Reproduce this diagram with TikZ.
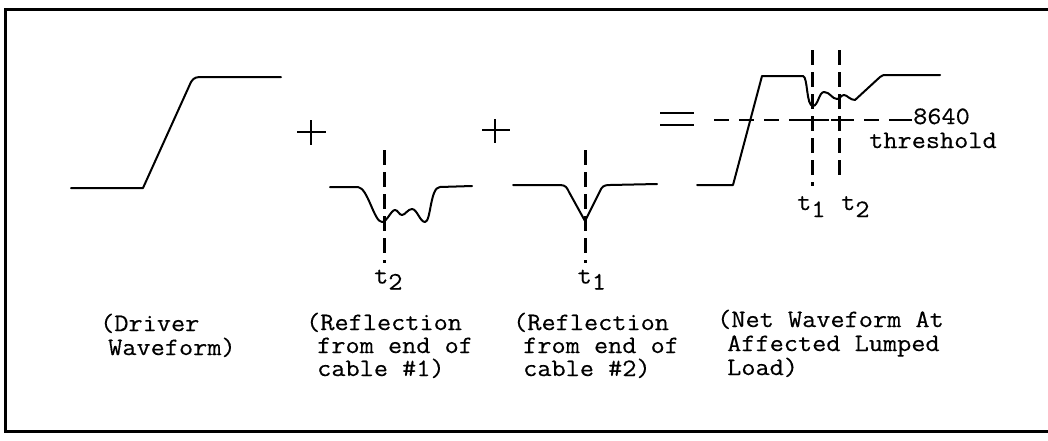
\documentclass[tikz,border=0pt]{standalone}
\usepackage{fontspec}
\newfontfamily\tw[FakeStretch=1.1,FakeBold=0.4]{Latin Modern Mono}
\begin{document}
\begin{tikzpicture}[x=1pt,y=-1pt,
  wave/.style={line width=2pt, line join=round, line cap=round},
  sign/.style={line width=2pt},
  vdash/.style={line width=3pt, dash pattern=on 15pt off 7pt},
  thr/.style={line width=1.6pt, dash pattern=on 15pt off 10pt},
  lbl/.style={anchor=base west, inner sep=0pt, font=\tw\fontsize{25}{23}\selectfont}]
\useasboundingbox (0,0) rectangle (1048,440);
% frame
\draw[line width=3pt] (1048,9) -- (5,9) -- (5,431) -- (1048,431);

% driver waveform
\draw[wave] (71,188) -- (143,188) -- (191,82) .. controls (194,77) and (197,77) .. (203,77) -- (281,77);

% plus signs and equals
\draw[sign] (297,132) -- (326,132) (311,120) -- (311,145);
\draw[sign] (482,130) -- (510,130) (495,119) -- (495,143);
\draw[sign] (660,113) -- (694,113) (660,125) -- (694,125);

% reflection 1
\draw[wave] (330,187) -- (358,187) .. controls (368,188) and (374,222) .. (382,222)
  .. controls (387,222) and (391,210) .. (395,210)
  .. controls (398,210) and (399,215) .. (402,215)
  .. controls (405,215) and (408,209) .. (412,209)
  .. controls (417,209) and (420,222) .. (425,222)
  .. controls (431,222) and (430,187) .. (440,187) -- (472,186);
\coordinate (r1top) at (384.5,150);
\coordinate (r1bot) at (384.5,263);
\draw[vdash] (r1top) -- (r1bot);
\node[lbl] (t2a) at (374,283.5) {t\raisebox{-6pt}{2}};

% reflection 2
\draw[wave] (513,185) -- (560,185) .. controls (566,185) and (567,188) .. (569,192)
  -- (585,221) -- (600,191) .. controls (602,187) and (603,185) .. (610,185) -- (657,184);
\coordinate (r2top) at (585,150);
\coordinate (r2bot) at (585,263);
\draw[vdash] (r2top) -- (r2bot);
\node[lbl] (t1a) at (577.5,283.5) {t\raisebox{-6pt}{1}};

% net waveform
\draw[wave] (697,185) -- (733,185) -- (762,76) -- (803,76)
  .. controls (808,77) and (806,106) .. (813,106)
  .. controls (818,106) and (819,92) .. (824,92)
  .. controls (830,92) and (832,99) .. (837,99)
  .. controls (840,99) and (841,95) .. (844,95)
  .. controls (847,95) and (850,100) .. (855,100)
  -- (880,77) .. controls (882,75) and (884,75) .. (886,75) -- (940,75);
\coordinate (n1top) at (812,50);
\coordinate (n1bot) at (812,186);
\coordinate (n2top) at (839,50);
\coordinate (n2bot) at (839,181);
\draw[vdash] (n1top) -- (n1bot);
\draw[vdash] (n2top) -- (n2bot);
\coordinate (thl) at (714,120);
\coordinate (thr) at (912,120);
\draw[thr] (thl) -- (thr);
\draw[line width=1.6pt] (804,120) -- (820,120) (831,120) -- (847,120) (896,120) -- (thr);
\node[lbl] (v8640) at (913,124) {8640};
\node[lbl] (thresh) at (869,148) {threshold};
\node[lbl] (t1b) at (797,210) {t\raisebox{-7pt}{1}};
\node[lbl] (t2b) at (841,210) {t\raisebox{-7pt}{2}};

% captions
\node[lbl] (c1a) at (100,331) {(Driver};
\node[lbl] (c1b) at (108,355) {Waveform)};
\node[lbl] (c2a) at (306,330) {(Reflection};
\node[lbl] (c2b) at (317,353) {from end of};
\node[lbl] (c2c) at (317,376) {cable \#1)};
\node[lbl] (c3a) at (513,330) {(Reflection};
\node[lbl] (c3b) at (523,353) {from end of};
\node[lbl] (c3c) at (523,376) {cable \#2)};
\node[lbl] (c4a) at (717,327) {(Net Waveform At};
\node[lbl] (c4b) at (727,351) {Affected Lumped};
\node[lbl] (c4c) at (727,375) {Load)};
\end{tikzpicture}
\end{document}
